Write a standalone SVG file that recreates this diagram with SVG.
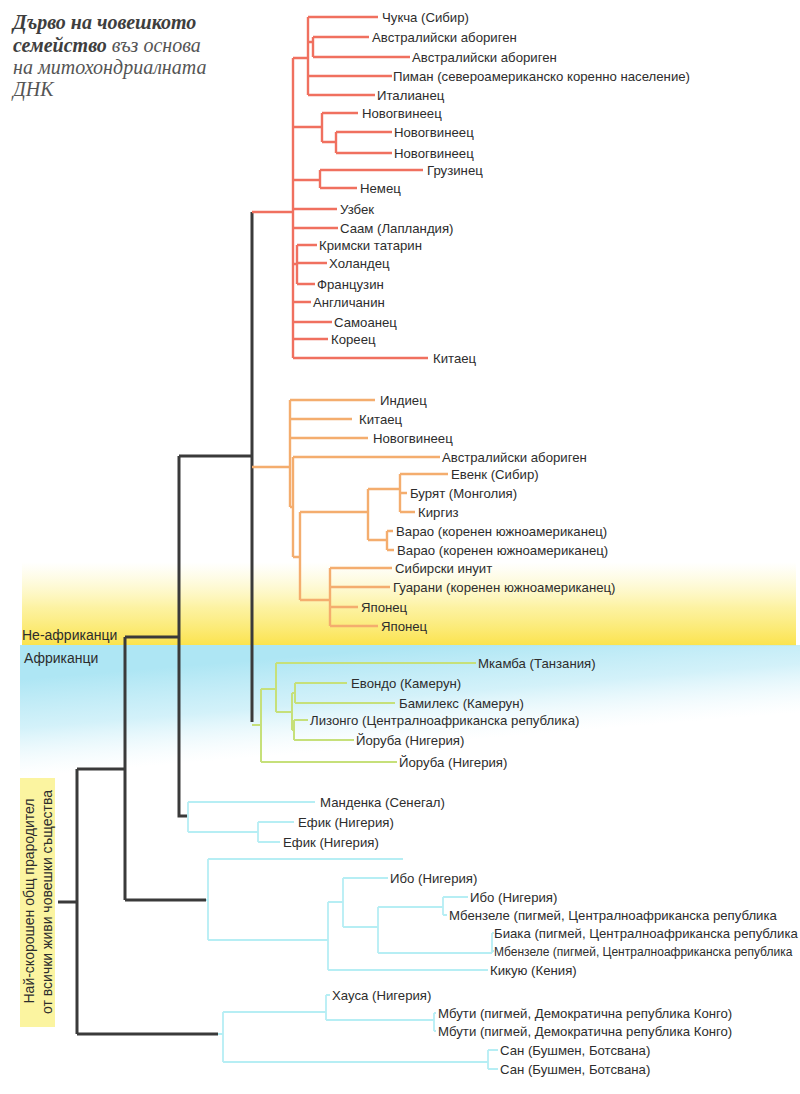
<svg xmlns="http://www.w3.org/2000/svg" width="800" height="1094" viewBox="0 0 800 1094">
<defs>
<linearGradient id="gy" gradientUnits="userSpaceOnUse" x1="400" y1="562" x2="400" y2="645">
<stop offset="0" stop-color="#fdf6b0" stop-opacity="0"/>
<stop offset="0.55" stop-color="#fcef8a" stop-opacity="0.8"/>
<stop offset="1" stop-color="#fbe34e"/>
</linearGradient>
<linearGradient id="gc" gradientUnits="userSpaceOnUse" x1="400" y1="648" x2="408" y2="745">
<stop offset="0" stop-color="#aee6f4"/>
<stop offset="0.5" stop-color="#c8eef8" stop-opacity="0.8"/>
<stop offset="1" stop-color="#e6f7fc" stop-opacity="0"/>
</linearGradient>
<style>
.k{fill:none;stroke:#3a3a3a;stroke-width:3}
.r{fill:none;stroke:#f0705f;stroke-width:2.4}
.o{fill:none;stroke:#f4ad6e;stroke-width:2.4}
.g{fill:none;stroke:#c6e07a;stroke-width:2}
.c{fill:none;stroke:#b6eef4;stroke-width:1.8}
text{font-family:"Liberation Sans",Arial,sans-serif;font-size:13.2px;fill:#2d2d2d}
.big{font-size:14px}
.sm{font-size:12px}
.tb{font-family:"Liberation Serif","Times New Roman",serif;font-weight:bold;font-style:italic;font-size:20px;fill:#3e3e3e}
.ti{font-family:"Liberation Serif","Times New Roman",serif;font-style:italic;font-size:20px;fill:#555}
</style>
</defs>
<rect x="22" y="562" width="774" height="84" fill="url(#gy)"/>
<rect x="20" y="645" width="780" height="140" fill="url(#gc)"/>
<g id="title">
<text x="13" y="29" class="tb">Дърво на човешкото</text>
<text x="13" y="52"><tspan class="tb">семейство</tspan><tspan class="ti"> въз основа</tspan></text>
<text x="13" y="74" class="ti">на митохондриалната</text>
<text x="13" y="96" class="ti">ДНК</text>
</g>
<g id="regions">
<text x="22" y="640" class="big">Не-африканци</text>
<text x="24" y="663" class="big">Африканци</text>
</g>
<g id="ancestor">
<rect x="20" y="778" width="35" height="249" fill="#fbf4a0"/>
<text transform="translate(34,901) rotate(-90)" text-anchor="middle" class="big">Най-скорошен общ прародител</text>
<text transform="translate(52,902) rotate(-90)" text-anchor="middle" class="big">от всички живи човешки същества</text>
</g>
<g id="connectors">
<path class="k" d="M58,902H77M77,769V1034M77,769H125M77,1034H218M125,637V900M125,637H179M125,900H206M179,456V816H187M179,456H252M252,212V722"/>
<path class="r" d="M252,212H293M293,58V358M293,58H308M308,17V95M308,17H378M308,42H313M313,37V57M313,37H369M313,57H410M308,76H392M308,95H375M293,127H322M322,113V142M322,113H358M322,142H336M336,132V153M336,132H392M336,153H392M293,180H320M320,170V188M320,170H423M320,188H357M293,209H337M293,228H338M293,264H297M297,245V284M297,245H317M297,263H327M297,284H315M293,302H311M293,322H332M293,339H328M293,358H428"/>
<path class="o" d="M252,467H290M290,400V507M290,400H375M290,419H352M290,438H368M290,507H293M293,457V557M293,457H440M293,557H300M300,512V600M300,512H368M368,489V540M368,489H400M400,474V512M400,474H448M400,493H407M400,512H415M368,540H387M387,531V550M387,531H393M387,550H394M300,600H330M330,568V626M330,568H392M330,587H390M330,607H358M330,626H378"/>
<path class="g" d="M252,725H261M261,689V762M261,689H276M276,663V712M276,663H476M276,712H292M292,693V730M292,693H295M295,683V703M295,683H347M295,703H395M292,730H294M294,720V740M294,720H308M294,740H354M261,762H397"/>
<path class="c" d="M187,816H188M188,802V832M188,802H315M188,832H258M258,822V842M258,822H294M258,842H280M206,900H208M208,859V940M208,859H403M208,940H328M328,902V970M328,970H488M328,902H343M343,878V927M343,878H388M343,927H378M378,907V953M378,907H443M443,897V915M443,897H468M443,915H447M378,953H492M492,933V953M492,933H494M492,951H494M218,1034H223M223,1012V1062M223,1012H326M326,995V1020M326,995H330M326,1020H434M434,1013V1031M434,1013H436M434,1031H436M223,1062H488M488,1050V1069M488,1050H498M488,1069H498"/>
</g>
<g id="red-leaves">
<g id="n1"><text x="382" y="22">Чукча (Сибир)</text></g>
<g id="n2"><text x="372" y="42">Австралийски абориген</text></g>
<g id="n3"><text x="412" y="62">Австралийски абориген</text></g>
<g id="n4"><text x="393" y="81">Пиман (североамериканско коренно население)</text></g>
<g id="n5"><text x="377" y="100">Италианец</text></g>
<g id="n6"><text x="362" y="118">Новогвинеец</text></g>
<g id="n7"><text x="394" y="137">Новогвинеец</text></g>
<g id="n8"><text x="394" y="158">Новогвинеец</text></g>
<g id="n9"><text x="427" y="175">Грузинец</text></g>
<g id="n10"><text x="360" y="193">Немец</text></g>
<g id="n11"><text x="340" y="214">Узбек</text></g>
<g id="n12"><text x="340" y="233">Саам (Лапландия)</text></g>
<g id="n13"><text x="319" y="250">Кримски татарин</text></g>
<g id="n14"><text x="329" y="268">Холандец</text></g>
<g id="n15"><text x="317" y="289">Французин</text></g>
<g id="n16"><text x="313" y="307">Англичанин</text></g>
<g id="n17"><text x="334" y="327">Самоанец</text></g>
<g id="n18"><text x="331" y="344">Кореец</text></g>
<g id="n19"><text x="433" y="363">Китаец</text></g>
</g>
<g id="orange-leaves">
<g id="n20"><text x="380" y="405">Индиец</text></g>
<g id="n21"><text x="359" y="424">Китаец</text></g>
<g id="n22"><text x="373" y="443">Новогвинеец</text></g>
<g id="n23"><text x="442" y="462">Австралийски абориген</text></g>
<g id="n24"><text x="451" y="479">Евенк (Сибир)</text></g>
<g id="n25"><text x="410" y="498">Бурят (Монголия)</text></g>
<g id="n26"><text x="418" y="517">Киргиз</text></g>
<g id="n27"><text x="396" y="536">Варао (коренен южноамериканец)</text></g>
<g id="n28"><text x="397" y="555">Варао (коренен южноамериканец)</text></g>
<g id="n29"><text x="395" y="573">Сибирски инуит</text></g>
<g id="n30"><text x="393" y="592">Гуарани (коренен южноамериканец)</text></g>
<g id="n31"><text x="361" y="612">Японец</text></g>
<g id="n32"><text x="381" y="631">Японец</text></g>
</g>
<g id="green-leaves">
<g id="n33"><text x="478" y="668">Мкамба (Танзания)</text></g>
<g id="n34"><text x="351" y="688">Евондо (Камерун)</text></g>
<g id="n35"><text x="399" y="708">Бамилекс (Камерун)</text></g>
<g id="n36"><text x="310" y="725">Лизонго (Централноафриканска република)</text></g>
<g id="n37"><text x="356" y="745">Йоруба (Нигерия)</text></g>
<g id="n38"><text x="399" y="767">Йоруба (Нигерия)</text></g>
</g>
<g id="cyan-leaves">
<g id="n39"><text x="320" y="807">Манденка (Сенегал)</text></g>
<g id="n40"><text x="298" y="827">Ефик (Нигерия)</text></g>
<g id="n41"><text x="283" y="847">Ефик (Нигерия)</text></g>
<g id="n42"><text x="390" y="883">Ибо (Нигерия)</text></g>
<g id="n43"><text x="470" y="902">Ибо (Нигерия)</text></g>
<g id="n44"><text x="449" y="920">Мбензеле (пигмей, Централноафриканска република</text></g>
<g id="n45"><text x="494" y="938">Биака (пигмей, Централноафриканска република</text></g>
<g id="n46"><text x="494" y="956" class="sm">Мбензеле (пигмей, Централноафриканска република</text></g>
<g id="n47"><text x="490" y="975">Кикую (Кения)</text></g>
<g id="n48"><text x="332" y="1000">Хауса (Нигерия)</text></g>
<g id="n49"><text x="438" y="1018">Мбути (пигмей, Демократична република Конго)</text></g>
<g id="n50"><text x="438" y="1036">Мбути (пигмей, Демократична република Конго)</text></g>
<g id="n51"><text x="500" y="1055">Сан (Бушмен, Ботсвана)</text></g>
<g id="n52"><text x="500" y="1074">Сан (Бушмен, Ботсвана)</text></g>
</g>
</svg>
